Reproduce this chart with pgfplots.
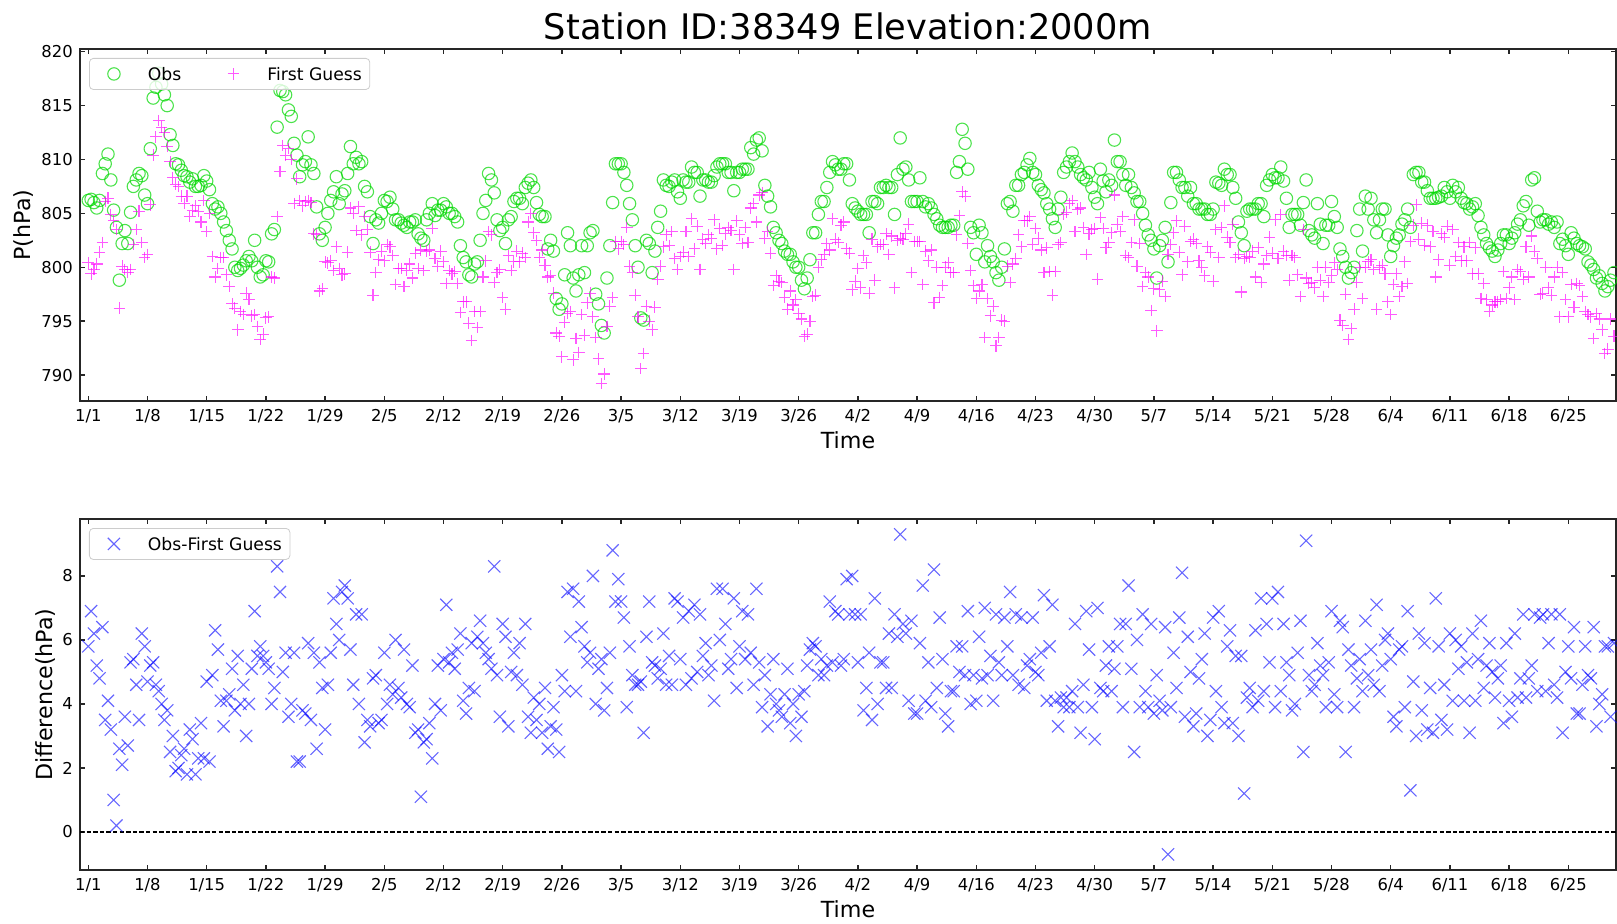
\documentclass[border=0pt]{standalone}
\usepackage{fontspec}
\setmainfont{DejaVu Sans}
\usepackage{pgfplots}
\usepackage{pgfplotstable}
\pgfplotsset{compat=1.18}

\definecolor{obsc}{RGB}{0,215,0}
\definecolor{fgc}{RGB}{255,0,255}
\definecolor{diffc}{RGB}{0,0,255}

\newcommand{\tickfont}{\fontsize{8.2}{10}\selectfont}
\newcommand{\labfont}{\fontsize{11.1}{13}\selectfont}
\newcommand{\legfont}{\fontsize{8.6}{10}\selectfont}

% t = day since 1/1, obs and first guess in hPa, diff = obs - first guess
\pgfplotstableread{
t obs fg diff
0 806.2 800.4 5.8
0.33 806.3 799.4 6.9
0.67 806.0 799.8 6.2
1 805.5 800.3 5.2
1.33 806.2 801.4 4.8
1.67 808.7 802.3 6.4
2 809.6 806.1 3.5
2.33 810.5 806.4 4.1
2.67 808.1 804.9 3.2
3 805.3 804.3 1.0
3.33 803.7 803.5 0.2
3.67 798.8 796.2 2.6
4 802.2 800.1 2.1
4.33 803.4 799.8 3.6
4.67 802.2 799.5 2.7
5 805.1 799.8 5.3
5.33 807.5 802.1 5.4
5.67 808.1 803.5 4.6
6 808.7 805.2 3.5
6.33 808.5 802.3 6.2
6.67 806.7 800.9 5.8
7 805.9 801.2 4.7
7.33 811.0 805.8 5.2
7.67 815.7 810.4 5.3
8 816.7 812.1 4.6
8.33 818.0 813.6 4.4
8.67 817.0 813.0 4.0
9 816.0 812.5 3.5
9.33 815.0 811.2 3.8
9.67 812.3 809.8 2.5
10 811.3 808.3 3.0
10.33 809.6 807.7 1.9
10.67 809.5 807.5 2.0
11 809.0 806.6 2.4
11.33 808.5 805.9 2.6
11.67 808.4 806.6 1.8
12 807.9 804.7 3.2
12.33 808.2 805.3 2.9
12.67 807.5 805.7 1.8
13 807.5 805.2 2.3
13.33 807.6 804.2 3.4
13.67 808.5 806.2 2.3
14 808.0 803.3 4.7
14.33 807.2 805.0 2.2
14.67 805.9 801.0 4.9
15 805.4 799.1 6.3
15.33 805.6 799.9 5.7
15.67 805.0 800.9 4.1
16 804.2 800.9 3.3
16.33 803.4 799.3 4.1
16.67 802.5 798.2 4.3
17 801.7 796.6 5.1
17.33 800.0 796.2 3.8
17.67 799.7 794.2 5.5
18 799.9 795.9 4.0
18.33 800.2 795.6 4.6
18.67 800.6 797.6 3.0
19 801.0 797.0 4.0
19.33 800.6 795.5 5.1
19.67 802.5 795.6 6.9
20 800.0 794.5 5.5
20.33 799.1 793.3 5.8
20.67 799.3 793.8 5.5
21 800.6 795.3 5.3
21.33 800.5 795.4 5.1
21.67 803.1 799.1 4.0
22 803.5 799.0 4.5
22.33 813.0 804.7 8.3
22.67 816.4 808.9 7.5
23 816.3 811.3 5.0
23.33 816.0 810.4 5.6
23.67 814.6 811.0 3.6
24 814.0 810.0 4.0
24.33 811.5 805.9 5.6
24.67 810.4 808.2 2.2
25 808.4 806.2 2.2
25.33 809.5 805.7 3.8
25.67 809.8 806.1 3.7
26 812.1 806.2 5.9
26.33 809.5 806.0 3.5
26.67 808.7 803.1 5.6
27 805.6 803.0 2.6
27.33 803.1 797.8 5.3
27.67 802.5 798.0 4.5
28 803.7 800.5 3.2
28.33 805.0 800.4 4.6
28.67 806.2 800.6 5.6
29 807.0 799.7 7.3
29.33 808.4 801.9 6.5
29.67 805.9 799.9 6.0
30 806.8 799.3 7.5
30.33 807.1 799.4 7.7
30.67 808.7 801.4 7.3
31 811.2 805.5 5.7
31.33 809.6 805.0 4.6
31.67 810.2 803.4 6.8
32 809.6 805.6 4.0
32.33 809.8 803.0 6.8
32.67 807.5 804.7 2.8
33 807.0 803.5 3.5
33.33 804.7 801.4 3.3
33.67 802.2 797.4 4.8
34 804.4 799.5 4.9
34.33 804.1 800.7 3.4
34.67 805.0 801.5 3.5
35 806.2 800.6 5.6
35.33 806.1 802.1 4.0
35.67 806.5 801.9 4.6
36 805.4 801.1 4.3
36.33 804.4 798.4 6.0
36.67 804.4 799.9 4.5
37 804.1 799.9 4.2
37.33 803.9 798.2 5.7
37.67 803.7 799.7 4.0
38 804.2 800.3 3.9
38.33 804.2 799.0 5.2
38.67 804.4 801.3 3.1
39 803.1 799.9 3.2
39.33 802.7 801.6 1.1
39.67 802.5 799.7 2.8
40 804.4 801.5 2.9
40.33 805.0 801.6 3.4
40.67 805.9 803.6 2.3
41 804.8 800.8 4.0
41.33 805.3 800.1 5.2
41.67 805.3 801.5 3.8
42 805.9 800.5 5.4
42.33 805.6 798.5 7.1
42.67 805.0 799.7 5.3
43 805.0 799.4 5.6
43.33 804.7 799.6 5.1
43.67 804.2 798.5 5.7
44 802.0 795.8 6.2
44.33 800.9 796.8 4.1
44.67 800.5 796.8 3.7
45 799.3 794.8 4.5
45.33 799.1 793.2 5.9
45.67 800.3 795.9 4.4
46 800.5 794.4 6.1
46.33 802.5 795.9 6.6
46.67 805.0 799.1 5.9
47 806.2 800.6 5.6
47.33 808.7 803.3 5.4
47.67 808.1 803.0 5.1
48 806.9 798.6 8.3
48.33 804.4 799.5 4.9
48.67 803.4 799.8 3.6
49 803.7 797.2 6.5
49.33 802.2 796.1 6.1
49.67 804.4 801.1 3.3
50 804.7 799.7 5.0
50.33 806.1 800.5 5.6
50.67 806.4 801.5 4.9
51 806.4 800.5 5.9
51.33 805.9 801.3 4.6
51.67 807.4 800.9 6.5
52 807.8 804.2 3.6
52.33 808.1 805.0 3.1
52.67 807.4 803.2 4.2
53 806.0 802.5 3.5
53.33 804.9 800.9 4.0
53.67 804.7 801.6 3.1
54 804.7 800.2 4.5
54.33 801.7 799.1 2.6
54.67 802.5 799.2 3.3
55 801.5 797.6 3.9
55.33 797.1 793.9 3.2
55.67 796.1 793.6 2.5
56 796.6 791.7 4.9
56.33 799.3 794.9 4.4
56.67 803.2 795.7 7.5
57 802.0 795.9 6.1
57.33 799.0 791.4 7.6
57.67 797.8 793.4 4.4
58 799.3 792.1 7.2
58.33 802.0 795.6 6.4
58.67 799.5 793.7 5.8
59 802.0 796.7 5.3
59.33 803.2 797.6 5.6
59.67 803.4 795.4 8.0
60 797.5 793.5 4.0
60.33 796.6 791.5 5.1
60.67 794.6 789.2 5.4
61 793.9 790.1 3.8
61.33 799.0 794.5 4.5
61.67 802.0 796.4 5.6
62 806.0 797.2 8.8
62.33 809.6 802.4 7.2
62.67 809.6 801.7 7.9
63 809.6 802.4 7.2
63.33 808.8 802.1 6.7
63.67 807.6 803.7 3.9
64 805.9 800.1 5.8
64.33 804.4 799.5 4.9
64.67 802.0 797.4 4.6
65 800.0 795.4 4.6
65.33 795.3 790.6 4.7
65.67 795.1 792.0 3.1
66 802.5 796.4 6.1
66.33 802.2 795.0 7.2
66.67 799.5 794.2 5.3
67 801.5 796.3 5.2
67.33 803.7 798.9 4.8
67.67 805.2 800.1 5.1
68 808.1 801.9 6.2
68.33 807.6 803.0 4.6
68.67 807.5 802.0 5.5
69 807.9 803.3 4.6
69.33 808.1 800.8 7.3
69.67 807.0 799.8 7.2
70 806.4 801.0 5.4
70.33 808.1 801.4 6.7
70.67 807.9 803.3 4.6
71 807.9 801.0 6.9
71.33 809.3 804.5 4.8
71.67 808.8 801.7 7.1
72 808.8 803.8 5.0
72.33 806.6 799.8 6.8
72.67 808.1 802.6 5.5
73 808.1 802.2 5.9
73.33 807.9 803.0 4.9
73.67 807.9 802.7 5.2
74 808.5 804.4 4.1
74.33 809.3 801.7 7.6
74.67 809.6 803.6 6.0
75 809.6 802.0 7.6
75.33 809.6 803.1 6.5
75.67 808.8 803.7 5.1
76 808.8 803.4 5.4
76.33 807.1 799.8 7.3
76.67 808.8 804.3 4.5
77 808.8 803.0 5.8
77.33 809.1 802.2 6.9
77.67 809.1 803.7 5.4
78 809.1 802.3 6.8
78.33 811.1 805.5 5.6
78.67 810.5 805.9 4.6
79 811.8 804.2 7.6
79.33 812.0 806.7 5.3
79.67 810.8 806.9 3.9
80 807.6 802.7 4.9
80.33 806.6 803.3 3.3
80.67 805.6 801.3 4.3
81 803.7 798.3 5.4
81.33 803.2 799.2 4.0
81.67 802.5 798.7 3.8
82 802.2 798.6 3.6
82.33 801.5 797.2 4.3
82.67 801.2 796.1 5.1
83 801.2 797.8 3.4
83.33 800.5 796.5 4.0
83.67 800.0 797.0 3.0
84 800.0 795.7 4.3
84.33 798.8 795.2 3.6
84.67 798.0 793.6 4.4
85 799.0 793.8 5.2
85.33 800.7 795.0 5.7
85.67 803.2 797.3 5.9
86 803.2 797.4 5.8
86.33 804.9 800.0 4.9
86.67 806.1 800.7 5.4
87 806.1 801.2 4.9
87.33 807.4 802.2 5.2
87.67 808.8 801.6 7.2
88 809.8 804.5 5.3
88.33 809.5 802.6 6.9
88.67 809.1 802.3 6.8
89 809.1 803.9 5.2
89.33 809.6 804.2 5.4
89.67 809.6 801.7 7.9
90 808.1 801.3 6.8
90.33 805.9 797.9 8.0
90.67 805.5 798.7 6.8
91 805.2 799.9 5.3
91.33 804.9 798.1 6.8
91.67 804.9 801.1 3.8
92 804.9 800.4 4.5
92.33 803.2 797.6 5.6
92.67 806.1 802.6 3.5
93 806.1 798.8 7.3
93.33 805.9 801.9 4.0
93.67 807.4 802.1 5.3
94 807.4 802.1 5.3
94.33 807.6 803.1 4.5
94.67 807.4 801.2 6.2
95 807.4 802.9 4.5
95.33 804.9 798.1 6.8
95.67 808.6 802.5 6.1
96 812.0 802.7 9.3
96.33 809.1 802.6 6.5
96.67 809.3 803.1 6.2
97 808.1 804.0 4.1
97.33 806.1 799.5 6.6
97.67 806.1 802.4 3.7
98 806.1 802.4 3.7
98.33 808.3 802.4 5.9
98.67 806.1 798.4 7.7
99 805.6 801.5 4.1
99.33 805.9 800.6 5.3
99.67 805.5 801.6 3.9
100 804.9 796.7 8.2
100.33 804.5 800.0 4.5
100.67 803.9 797.2 6.7
101 803.7 798.3 5.4
101.33 803.7 800.0 3.7
101.67 803.7 800.4 3.3
102 803.9 799.5 4.4
102.33 803.9 799.5 4.4
102.67 808.8 803.0 5.8
103 809.8 804.8 5.0
103.33 812.8 807.0 5.8
103.67 811.5 806.6 4.9
104 809.1 802.2 6.9
104.33 803.7 799.7 4.0
104.67 803.2 798.3 4.9
105 801.2 797.1 4.1
105.33 803.9 797.8 6.1
105.67 803.2 798.4 4.8
106 800.5 793.5 7.0
106.33 802.0 797.1 4.9
106.67 801.0 795.5 5.5
107 800.5 796.4 4.1
107.33 799.5 792.7 6.8
107.67 798.8 793.5 5.3
108 800.0 795.1 4.9
108.33 801.7 795.0 6.7
108.67 805.9 800.1 5.8
109 806.1 798.6 7.5
109.33 805.2 800.3 4.9
109.67 807.6 800.8 6.8
110 807.6 803.0 4.6
110.33 808.6 801.9 6.7
110.67 808.8 804.3 4.5
111 809.5 804.3 5.2
111.33 810.1 804.7 5.4
111.67 808.8 802.1 6.7
112 808.6 803.6 5.0
112.33 807.6 802.7 4.9
112.67 807.2 801.6 5.6
113 806.9 799.5 7.4
113.33 805.9 801.8 4.1
113.67 805.4 799.6 5.8
114 804.5 797.4 7.1
114.33 803.7 799.6 4.1
114.67 805.4 802.1 3.3
115 806.5 802.3 4.2
115.33 808.8 804.9 3.9
115.67 809.3 805.1 4.2
116 809.8 805.9 3.9
116.33 810.6 806.2 4.4
116.67 809.8 803.3 6.5
117 809.3 805.4 3.9
117.33 808.6 805.5 3.1
117.67 808.3 803.7 4.6
118 808.1 801.2 6.9
118.33 808.8 803.1 5.7
118.67 807.4 803.5 3.9
119 806.5 803.6 2.9
119.33 805.9 798.9 7.0
119.67 809.1 804.6 4.5
120 808.0 803.6 4.4
120.33 807.0 801.8 5.2
120.67 808.1 802.3 5.8
121 807.6 803.2 4.4
121.33 811.8 806.7 5.1
121.67 809.8 804.0 5.8
122 809.8 803.3 6.5
122.33 808.6 804.7 3.9
122.67 807.6 801.1 6.5
123 808.6 800.9 7.7
123.33 807.4 802.3 5.1
123.67 806.9 804.4 2.5
124 806.1 800.1 6.0
124.33 806.1 802.2 3.9
124.67 805.0 798.2 6.8
125 803.9 799.5 4.4
125.33 803.0 799.1 3.9
125.67 802.5 796.0 6.5
126 801.7 798.0 3.7
126.33 799.0 794.1 4.9
126.67 802.0 797.9 4.1
127 802.5 798.7 3.8
127.33 803.7 797.3 6.4
127.67 800.5 801.2 -0.7
128 806.0 802.1 3.9
128.33 808.8 803.2 5.6
128.67 808.8 804.3 4.5
129 808.1 801.4 6.7
129.33 807.4 799.3 8.1
129.67 807.4 803.8 3.6
130 806.6 800.5 6.1
130.33 807.4 802.4 5.0
130.67 805.9 802.6 3.3
131 805.9 802.2 3.7
131.33 805.4 800.6 4.8
131.67 805.4 800.0 5.4
132 805.4 799.2 6.2
132.33 804.9 801.9 3.0
132.67 804.9 801.4 3.5
133 805.4 798.7 6.7
133.33 807.9 803.5 4.4
133.67 807.8 800.9 6.9
134 807.6 803.7 3.9
134.33 809.1 805.7 3.4
134.67 808.6 802.8 5.8
135 808.6 802.3 6.3
135.33 807.4 804.0 3.4
135.67 806.4 800.9 5.5
136 804.2 801.2 3.0
136.33 803.2 797.7 5.5
136.67 802.0 800.8 1.2
137 805.2 801.0 4.2
137.33 805.4 800.9 4.5
137.67 805.4 801.5 3.9
138 805.4 799.1 6.3
138.33 805.9 801.8 4.1
138.67 805.9 798.6 7.3
139 804.7 800.3 4.4
139.33 807.6 801.1 6.5
139.67 808.1 802.8 5.3
140 808.6 801.3 7.3
140.33 808.3 804.4 3.9
140.67 808.3 800.8 7.5
141 809.3 804.9 4.4
141.33 808.0 801.5 6.5
141.67 806.4 801.1 5.3
142 803.7 798.8 4.9
142.33 804.9 801.1 3.8
142.67 804.9 800.9 4.0
143 804.9 799.3 5.6
143.33 803.9 797.3 6.6
143.67 806.0 803.5 2.5
144 808.1 799.0 9.1
144.33 803.4 798.5 4.9
144.67 803.0 798.6 4.4
145 802.7 798.1 4.6
145.33 805.9 800.0 5.9
145.67 804.0 798.8 5.2
146 802.2 797.3 4.9
146.33 803.9 800.0 3.9
146.67 803.9 798.6 5.3
147 806.1 799.2 6.9
147.33 804.7 800.4 4.3
147.67 803.7 799.8 3.9
148 801.7 795.1 6.6
148.33 801.0 794.6 6.4
148.67 800.0 797.5 2.5
149 799.0 793.3 5.7
149.33 799.5 794.3 5.2
149.67 800.0 796.1 3.9
150 803.4 798.6 4.8
150.33 805.4 800.0 5.4
150.67 801.5 797.1 4.4
151 806.6 800.0 6.6
151.33 805.4 800.5 4.9
151.67 806.4 800.7 5.7
152 804.4 799.8 4.6
152.33 803.2 796.1 7.1
152.67 804.4 800.0 4.4
153 805.4 800.2 5.2
153.33 805.4 799.4 6.0
153.67 803.0 796.8 6.2
154 801.0 795.6 5.4
154.33 802.0 798.4 3.6
154.67 802.7 799.4 3.3
155 803.0 797.3 5.7
155.33 804.0 798.2 5.8
155.67 804.4 800.5 3.9
156 805.4 798.5 6.9
156.33 803.7 802.4 1.3
156.67 808.6 803.9 4.7
157 808.8 805.8 3.0
157.33 808.8 802.6 6.2
157.67 807.9 804.1 3.8
158 807.9 802.0 5.9
158.33 807.1 803.9 3.2
158.67 806.4 801.9 4.5
159 806.4 803.3 3.1
159.33 806.4 799.1 7.3
159.67 806.5 800.7 5.8
160 806.6 803.1 3.5
160.33 807.4 802.8 4.6
160.67 807.0 803.8 3.2
161 806.4 800.2 6.2
161.33 807.6 803.5 4.1
161.67 807.0 801.0 6.0
162 807.4 802.3 5.1
162.33 806.4 800.6 5.8
162.67 806.0 801.9 4.1
163 805.9 800.6 5.3
163.33 805.4 802.3 3.1
163.67 805.6 799.4 6.2
164 805.9 801.8 4.1
164.33 804.8 799.4 5.4
164.67 803.7 797.1 6.6
165 803.0 798.5 4.5
165.33 802.2 797.0 5.2
165.67 801.8 795.9 5.9
166 801.5 796.5 5.0
166.33 801.0 796.8 4.2
166.67 801.6 796.8 4.8
167 802.2 797.0 5.2
167.33 803.0 799.6 3.4
167.67 803.0 797.1 5.9
168 802.2 798.1 4.1
168.33 802.7 799.1 3.6
168.67 803.2 797.0 6.2
169 804.0 799.8 4.2
169.33 804.4 799.6 4.8
169.67 805.7 798.9 6.8
170 806.1 801.9 4.2
170.33 803.9 799.1 4.8
170.67 808.1 802.9 5.2
171 808.3 801.5 6.8
171.33 805.2 800.8 4.4
171.67 804.2 797.5 6.7
172 804.4 797.6 6.8
172.33 804.4 800.0 4.4
172.67 804.0 798.1 5.9
173 804.2 797.4 6.8
173.33 803.7 799.1 4.6
173.67 804.2 800.0 4.2
174 802.2 795.4 6.8
174.33 802.6 799.5 3.1
174.67 802.0 797.0 5.0
175 801.2 795.4 5.8
175.33 803.2 798.4 4.8
175.67 802.7 796.3 6.4
176 802.2 798.5 3.7
176.33 802.0 798.3 3.7
176.67 801.9 797.3 4.6
177 801.7 795.9 5.8
177.33 800.5 795.6 4.9
177.67 800.2 795.4 4.8
178 799.8 793.4 6.4
178.33 799.0 795.7 3.3
178.67 799.2 795.2 4.0
179 798.5 794.2 4.3
179.33 797.8 792.0 5.8
179.67 798.2 792.4 5.8
180 798.8 795.2 3.6
180.4 799.5 793.6 5.9
}\stationdata

\pgfplotsset{
  stn/.style={
    scale only axis,
    width=768pt,
    xmin=-0.98, xmax=180.64,
    xtick={0,7,...,175},
    xticklabels={1/1,1/8,1/15,1/22,1/29,2/5,2/12,2/19,2/26,3/5,3/12,3/19,3/26,4/2,4/9,4/16,4/23,4/30,5/7,5/14,5/21,5/28,6/4,6/11,6/18,6/25},
    tick align=inside,
    xtick pos=both, ytick pos=both,
    major tick length=2.4pt,
    axis line style={line width=0.9pt, black!85},
    tick style={line width=0.7pt, black!85},
    xticklabel style={font=\tickfont, anchor=base, yshift=-10pt, inner sep=0pt},
    yticklabel style={font=\tickfont, anchor=east, xshift=-3.4pt, inner sep=0pt},
    /pgf/number format/assume math mode=true,
    xlabel={Time},
    xlabel style={at={(axis description cs:0.5,0)}, anchor=base, yshift=-23.5pt, inner sep=0pt, font=\labfont},
    ylabel style={anchor=base, inner sep=0pt, font=\labfont},
    legend cell align=left,
    legend image code/.code={
      \path (0pt,-3pt) (16pt,3pt);
      \draw[##1] plot coordinates {(8pt,0pt)};
    },
    legend style={
      at={(0,1)}, anchor=north west, xshift=4.5pt, yshift=-4.5pt,
      draw=black!20, rounded corners=2pt,
      fill=white, fill opacity=0.8, draw opacity=1, text opacity=1,
      inner xsep=4pt, inner ysep=4.5pt,
      font=\legfont,
      nodes={inner sep=0pt, text depth=0pt},
      /tikz/every odd column/.append style={column sep=8.7pt},
      /tikz/every even column/.append style={column sep=17.8pt},
    },
  },
}

\begin{document}
\begin{tikzpicture}
\useasboundingbox (0,0) rectangle (808.5pt,461.5pt);

\begin{axis}[
    stn,
    at={(40pt,437pt)}, anchor=north west,
    height=176pt,
    ymin=787.59, ymax=820.25,
    ytick={790,795,800,805,810,815,820},
    title={Station ID:38349 Elevation:2000m},
    % the default title style already shifts by 6pt
    title style={at={(0.5,1)}, anchor=base, yshift=-1.5pt, inner sep=0pt, font=\fontsize{17.6}{20}\selectfont},
    ylabel={P(hPa)},
    ylabel style={at={(axis description cs:-0.0321,0.5)}},
    legend columns=2,
    ]
    \addplot[only marks, mark=o, mark size=3.1pt, line width=0.55pt, obsc, opacity=0.7]
        table[x=t, y=obs]{\stationdata};
    \addplot[only marks, mark=+, mark size=2.9pt, line width=0.55pt, fgc, opacity=0.65]
        table[x=t, y=fg]{\stationdata};
    \legend{Obs, First Guess}
\end{axis}

\begin{axis}[
    stn,
    at={(40pt,202pt)}, anchor=north west,
    height=175.5pt,
    ymin=-1.19, ymax=9.78,
    ytick={0,2,4,6,8},
    ylabel={Difference(hPa)},
    ylabel style={at={(axis description cs:-0.0180,0.5)}},
    legend columns=1,
    ]
    \addplot[forget plot, black, line width=0.6pt, dash pattern=on 2.2pt off 1.1pt]
        coordinates {(-0.98,0) (180.64,0)};
    \addplot[only marks, mark=x, mark size=4.3pt, line width=0.55pt, diffc, opacity=0.6]
        table[x=t, y=diff]{\stationdata};
    \legend{Obs-First Guess}
\end{axis}
\end{tikzpicture}
\end{document}
